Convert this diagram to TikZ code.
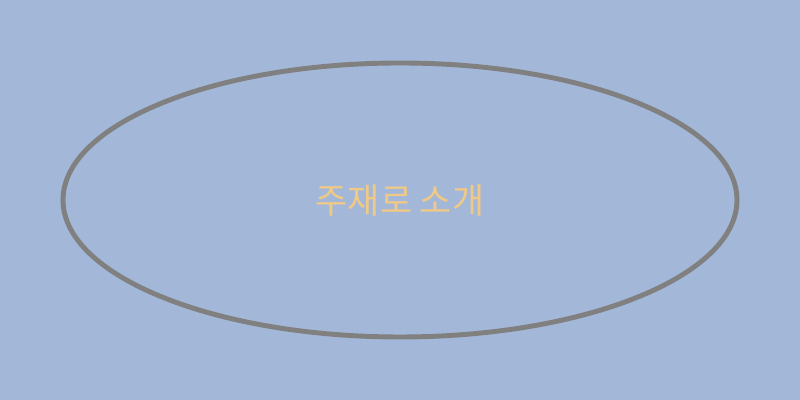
\documentclass[tikz,border=0pt]{standalone}
\usepackage{fontspec}
\newfontfamily\kofont{Noto Sans CJK KR}
\usetikzlibrary{shapes.geometric}
\definecolor{bgblue}{HTML}{A3B8D8}
\definecolor{rimgray}{HTML}{808080}
\definecolor{titlegold}{HTML}{F0C987}
\begin{document}
\begin{tikzpicture}
				\fill[bgblue] (0,0) rectangle (20,10);
				\node[ellipse, draw=rimgray, line width=3.5pt, inner sep=0pt, minimum width=16.85cm, minimum height=6.85cm, text=titlegold, font=\kofont\fontsize{24.8pt}{29pt}\selectfont] (intro) at (10,5) {주재로 소개};
	\end{tikzpicture}
\end{document}
